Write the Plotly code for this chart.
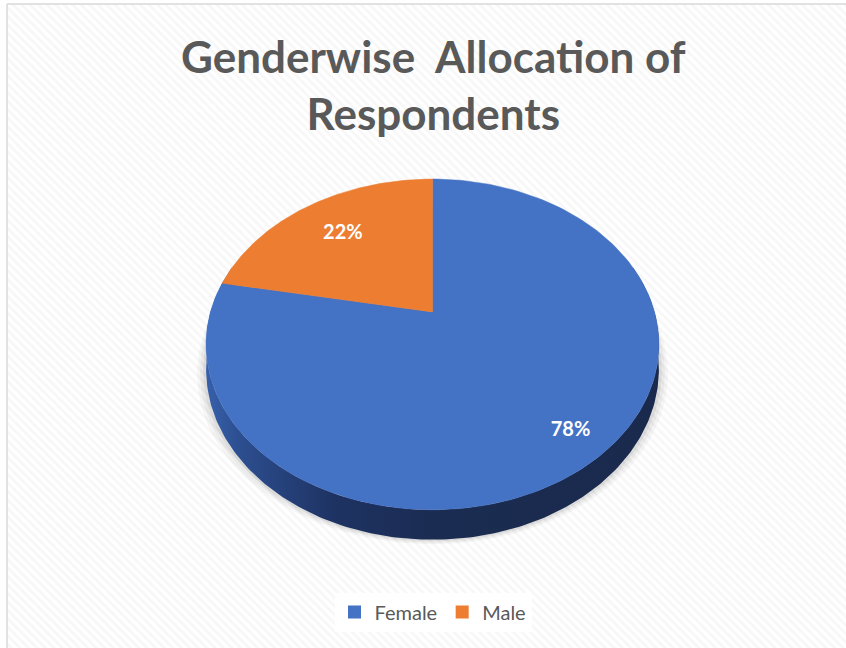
import numpy as np
import plotly.graph_objects as go

# ---- data ----
categories = ["Female", "Male"]
values = [78, 22]
colors = ["#4472C4", "#ED7D31"]
label_texts = [f"{v}%" for v in values]
title_lines = ["Genderwise\u00a0 Allocation of", "Respondents"]

# ---- geometry / style (pixel space) ----
W, H = 846, 648
CX, CY = 432.5, 312.0     # pie centre
A, B, K = 222.0, 159.0, 0.196   # radii and perspective factor
DEPTH = 24.1              # pie thickness
LABEL_R = [0.85, 0.70]    # label distance from centre (fraction of radius), per slice
FONT = "Lato"
GREY = "#595959"


def proj(theta, r=1.0, drop=0.0):
    u = r * np.cos(theta)
    v = r * np.sin(theta)
    w = 1 + K * v
    return CX + A * u / w, CY + (-B * v + drop) / w


fig = go.Figure()

# chart area background with diagonal hatch and border
fig.add_trace(go.Scatter(
    x=[7, 870, 870, 7, 7], y=[4, 4, 670, 670, 4], mode="lines", fill="toself",
    fillcolor="white",
    fillpattern=dict(shape="\\", size=6, solidity=0.45, fgcolor="#efefef", bgcolor="white"),
    line=dict(color="#d9d9d9", width=1.5), hoverinfo="skip", showlegend=False))

# soft shadow under the pie
full = np.linspace(0, 2 * np.pi, 240)
for grow, alpha in [(9, 0.035), (6, 0.045), (3, 0.06)]:
    bx, by = proj(full, 1.0, DEPTH)
    sx = CX + (bx - CX) * (1 + grow / 226.0)
    sy = by + grow * 0.5
    fig.add_trace(go.Scatter(x=sx, y=sy, mode="lines", fill="toself",
                             fillcolor=f"rgba(0,0,0,{alpha})", line=dict(width=0),
                             hoverinfo="skip", showlegend=False))

# side wall (front part, all belongs to the first slice)
ts = np.linspace(np.pi - 0.3, 2 * np.pi + 0.3, 240)
tx, ty = proj(ts, 1.0, 0.0)
bx, by = proj(ts[::-1], 1.0, DEPTH)
fig.add_trace(go.Scatter(
    x=np.concatenate([tx, bx]), y=np.concatenate([ty, by]), mode="lines", fill="toself",
    fillgradient=dict(type="horizontal",
                      colorscale=[[0, "#3760aa"], [0.08, "#2c4d8e"], [0.28, "#1e3363"],
                                  [0.5, "#1b2c52"], [1, "#1a2a4d"]]),
    line=dict(width=0), hoverinfo="skip", showlegend=False))

# top face slices
total = sum(values)
start = np.pi / 2
mids = []
for cat, val, col in zip(categories, values, colors):
    span = 2 * np.pi * val / total
    th = np.linspace(start, start - span, 200)
    ax, ay = proj(th)
    xs = np.concatenate([[CX], ax, [CX]])
    ys = np.concatenate([[CY], ay, [CY]])
    fig.add_trace(go.Scatter(x=xs, y=ys, mode="lines", fill="toself", fillcolor=col,
                             line=dict(color=col, width=0.5), name=cat,
                             hoverinfo="name", showlegend=False))
    mids.append(start - span / 2)
    start -= span

# data labels
lx, ly = proj(np.array(mids), np.array(LABEL_R))
fig.add_trace(go.Scatter(x=lx, y=ly, mode="text", text=label_texts,
                         textfont=dict(family=FONT, size=20, color="white", weight="bold"),
                         hoverinfo="skip", showlegend=False))

# legend entries
for cat, col in zip(categories, colors):
    fig.add_trace(go.Scatter(x=[None], y=[None], mode="markers", name=cat,
                             marker=dict(symbol="square", size=13, color=col)))

fig.add_annotation(x=433, y=28, xref="x", yref="y", yanchor="top", showarrow=False,
                   text="<br>".join(title_lines),
                   font=dict(family=FONT, size=44, color=GREY, weight="bold"))

fig.update_layout(
    width=W, height=H, margin=dict(l=0, r=0, t=0, b=0),
    paper_bgcolor="white", plot_bgcolor="white",
    xaxis=dict(range=[0, W], visible=False, fixedrange=True),
    yaxis=dict(range=[H, 0], visible=False, fixedrange=True),
    showlegend=True,
    legend=dict(orientation="h", x=433 / W, xanchor="center", y=1 - 612 / H, yanchor="middle",
                bgcolor="white", font=dict(family=FONT, size=20, color=GREY),
                itemsizing="trace", itemwidth=30),
)

fig.write_html("out.html", config={"displayModeBar": False},
               post_script="document.body.style.margin='0';document.body.style.overflow='hidden';")
